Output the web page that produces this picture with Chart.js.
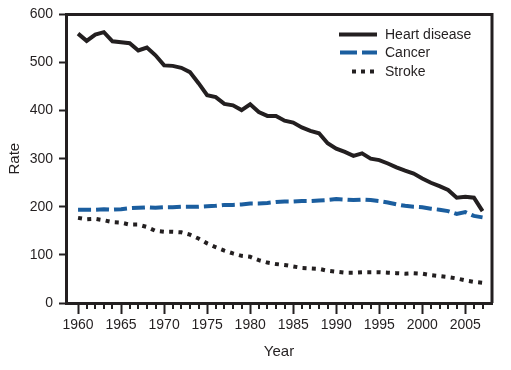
<!DOCTYPE html>
<html>
<head>
<meta charset="utf-8">
<script src="https://cdn.jsdelivr.net/npm/chart.js@4.4.1/dist/chart.umd.min.js"></script>
<style>
html, body { margin: 0; padding: 0; background: #fff; }
#wrap { width: 511px; height: 370px; }
</style>
</head>
<body>
<div id="wrap"><canvas id="rateChart" width="511" height="370"></canvas></div>
<script>
// Données
const years = [1960, 1961, 1962, 1963, 1964, 1965, 1966, 1967, 1968, 1969,
    1970, 1971, 1972, 1973, 1974, 1975, 1976, 1977, 1978, 1979,
    1980, 1981, 1982, 1983, 1984, 1985, 1986, 1987, 1988, 1989,
    1990, 1991, 1992, 1993, 1994, 1995, 1996, 1997, 1998, 1999,
    2000, 2001, 2002, 2003, 2004, 2005, 2006, 2007];
const heartDisease = [560, 545, 558, 563, 544, 542, 540, 525, 531, 515,
    494, 493, 489, 480, 457, 432, 428, 414, 411, 401,
    413, 397, 389, 389, 379, 375, 365, 358, 353, 332,
    321, 314, 306, 311, 300, 297, 290, 282, 275, 269,
    259, 250, 243, 235, 219, 221, 219, 191];
const cancer = [194, 194, 194, 195, 194, 195, 197, 198, 199, 198,
    199, 199, 200, 200, 200, 201, 202, 204, 204, 205,
    207, 207, 208, 210, 211, 211, 212, 212, 213, 214,
    216, 215, 214, 215, 214, 212, 209, 205, 202, 200,
    199, 196, 194, 191, 185, 189, 181, 178];
const stroke = [177, 174, 175, 172, 168, 167, 163, 163, 158, 150,
    148, 148, 147, 142, 134, 124, 116, 109, 103, 98,
    96, 89, 84, 81, 79, 76, 73, 72, 71, 67,
    65, 63, 63, 64, 64, 64, 63, 62, 61, 62,
    61, 58, 56, 54, 51, 47, 44, 42];
const seriesLabels = ['Heart disease', 'Cancer', 'Stroke'];
const majorTicks = [1960, 1965, 1970, 1975, 1980, 1985, 1990, 1995, 2000, 2005];
const yTicks = [0, 100, 200, 300, 400, 500, 600];

const INK = '#231f20';
const BLUE = '#1b5e9f';

Chart.defaults.font.family = '"Liberation Sans", Arial, sans-serif';
Chart.defaults.color = INK;

const toPoints = (values) => values.map((v, i) => ({ x: years[i], y: v }));

// Cadre, petites graduations et légende
const framePlugin = {
    id: 'frame',
    afterDraw(chart) {
        const { ctx, chartArea } = chart;
        const xScale = chart.scales.x;
        ctx.save();
        ctx.strokeStyle = INK;
        ctx.lineWidth = 3;
        ctx.beginPath();
        ctx.moveTo(chartArea.left, chartArea.top);
        ctx.lineTo(chartArea.right, chartArea.top);
        ctx.lineTo(chartArea.right, chartArea.bottom);
        ctx.stroke();

        // Graduations annuelles
        ctx.lineWidth = 2;
        years.forEach(year => {
            if (majorTicks.includes(year)) return;
            const px = Math.round(xScale.getPixelForValue(year));
            ctx.beginPath();
            ctx.moveTo(px, chartArea.bottom);
            ctx.lineTo(px, chartArea.bottom + 6);
            ctx.stroke();
        });
        ctx.restore();
    }
};

const legendPlugin = {
    id: 'insideLegend',
    afterDatasetsDraw(chart) {
        const { ctx, chartArea } = chart;
        const textX = chartArea.right - 107;
        const rows = [chartArea.top + 20, chartArea.top + 38, chartArea.top + 57];
        ctx.save();
        ctx.lineWidth = 4;
        ctx.lineCap = 'butt';

        // Heart disease
        ctx.strokeStyle = INK;
        ctx.setLineDash([]);
        ctx.beginPath();
        ctx.moveTo(chartArea.right - 153, rows[0]);
        ctx.lineTo(chartArea.right - 115, rows[0]);
        ctx.stroke();

        // Cancer
        ctx.strokeStyle = BLUE;
        ctx.setLineDash([17, 5]);
        ctx.beginPath();
        ctx.moveTo(chartArea.right - 152, rows[1]);
        ctx.lineTo(chartArea.right - 115, rows[1]);
        ctx.stroke();

        // Stroke
        ctx.strokeStyle = INK;
        ctx.setLineDash([4, 5]);
        ctx.beginPath();
        ctx.moveTo(chartArea.right - 140, rows[2]);
        ctx.lineTo(chartArea.right - 118, rows[2]);
        ctx.stroke();

        ctx.setLineDash([]);
        ctx.fillStyle = INK;
        ctx.font = '14px "Liberation Sans", Arial, sans-serif';
        ctx.textBaseline = 'middle';
        seriesLabels.forEach((label, i) => {
            ctx.fillText(label, textX, rows[i] + 1);
        });
        ctx.restore();
    }
};

new Chart(document.getElementById('rateChart'), {
    type: 'line',
    data: {
        datasets: [{
            label: seriesLabels[0],
            data: toPoints(heartDisease),
            borderColor: INK,
            borderWidth: 4,
            pointRadius: 0,
            tension: 0
        }, {
            label: seriesLabels[1],
            data: toPoints(cancer),
            borderColor: BLUE,
            borderWidth: 4,
            borderDash: [13, 5],
            borderCapStyle: 'butt',
            pointRadius: 0,
            tension: 0
        }, {
            label: seriesLabels[2],
            data: toPoints(stroke),
            borderColor: INK,
            borderWidth: 4,
            borderDash: [4, 5.3],
            borderCapStyle: 'butt',
            pointRadius: 0,
            tension: 0
        }]
    },
    options: {
        responsive: false,
        animation: false,
        devicePixelRatio: 1,
        layout: {
            padding: { top: 14, right: 19, left: 0, bottom: 0 }
        },
        plugins: {
            legend: { display: false },
            tooltip: { enabled: false }
        },
        scales: {
            x: {
                type: 'linear',
                min: 1958.6,
                max: 2008.1,
                afterBuildTicks: (scale) => {
                    scale.ticks = majorTicks.map(v => ({ value: v }));
                },
                afterFit: (scale) => { scale.height = 67; },
                border: { color: INK, width: 3 },
                grid: {
                    drawOnChartArea: false,
                    color: INK,
                    tickColor: INK,
                    tickLength: 11,
                    tickWidth: 2
                },
                ticks: {
                    autoSkip: false,
                    maxRotation: 0,
                    padding: 3,
                    font: { size: 14 },
                    callback: (value) => String(value)
                },
                title: {
                    display: true,
                    text: 'Year',
                    font: { size: 15 },
                    padding: { top: 0, bottom: 9 }
                }
            },
            y: {
                min: 0,
                max: 600,
                afterBuildTicks: (scale) => {
                    scale.ticks = yTicks.map(v => ({ value: v }));
                },
                afterFit: (scale) => { scale.width = 66; },
                border: { color: INK, width: 3 },
                grid: {
                    drawOnChartArea: false,
                    color: INK,
                    tickColor: INK,
                    tickLength: 7,
                    tickWidth: 2
                },
                ticks: {
                    padding: 6,
                    font: { size: 14 }
                },
                title: {
                    display: true,
                    text: 'Rate',
                    font: { size: 15 },
                    padding: { top: 6, bottom: 0 }
                }
            }
        }
    },
    plugins: [framePlugin, legendPlugin]
});
</script>
</body>
</html>
